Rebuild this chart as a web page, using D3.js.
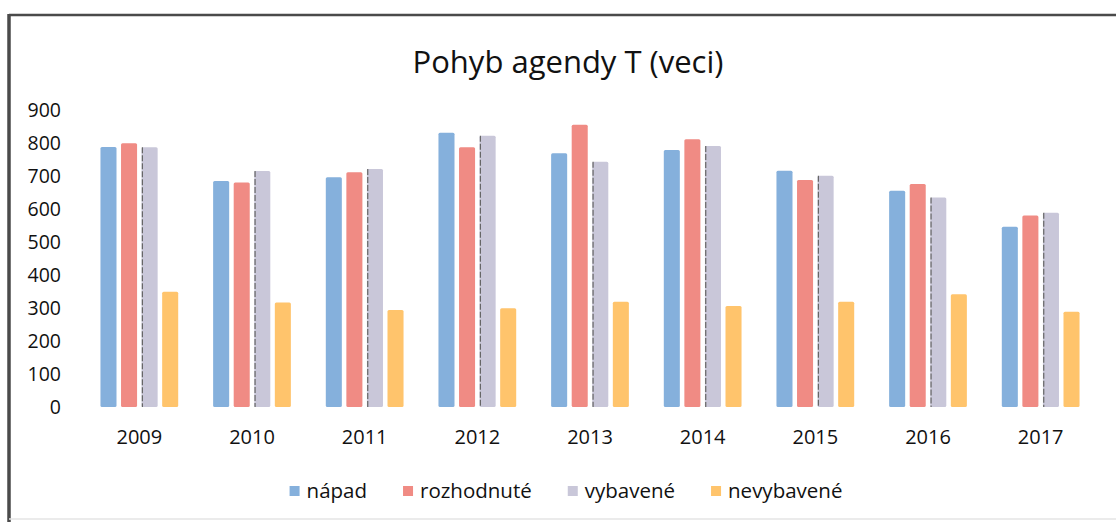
<!DOCTYPE html>
<html lang="en">
<head>
    <meta charset="UTF-8">
    <title>Pohyb agendy T (veci)</title>
    <script src="https://d3js.org/d3.v7.min.js"></script>
    <style>
        body { margin: 0; background: #fff; }
        svg { display: block; font-family: "Open Sans", sans-serif; }
    </style>
</head>
<body>
<svg id="chart"></svg>
<script>
    const years = ["2009", "2010", "2011", "2012", "2013", "2014", "2015", "2016", "2017"];
    const seriesNames = ["nápad", "rozhodnuté", "vybavené", "nevybavené"];
    const napad = [788, 685, 696, 831, 769, 779, 716, 655, 546];
    const rozhodnute = [799, 680, 711, 787, 855, 811, 688, 676, 580];
    const vybavene = [787, 715, 721, 822, 743, 791, 701, 635, 589];
    const nevybavene = [349, 317, 294, 299, 319, 306, 319, 342, 289];
    const yTicks = [0, 100, 200, 300, 400, 500, 600, 700, 800, 900];
    const colors = ["#85b0dc", "#f08b84", "#c9c7d9", "#ffc46c"];

    const values = [napad, rozhodnute, vybavene, nevybavene];
    const data = years.map((y, i) => ({
        year: y,
        vals: seriesNames.map((s, k) => ({ key: s, value: values[k][i] }))
    }));

    const width = 1116, height = 522;
    const svg = d3.select("#chart").attr("width", width).attr("height", height);

    // frame
    svg.append("line").attr("x1", 9).attr("x2", width).attr("y1", 15).attr("y2", 15)
        .attr("stroke", "#4a4a4a").attr("stroke-width", 2.5);
    svg.append("line").attr("x1", 9).attr("x2", 9).attr("y1", 14).attr("y2", height)
        .attr("stroke", "#4a4a4a").attr("stroke-width", 3.5);
    svg.append("line").attr("x1", 9).attr("x2", width).attr("y1", 519).attr("y2", 519)
        .attr("stroke", "#e4e4e4").attr("stroke-width", 1.5);

    svg.append("text")
        .attr("x", 568).attr("y", 73)
        .attr("text-anchor", "middle")
        .attr("font-size", 31)
        .attr("fill", "#111")
        .text("Pohyb agendy T (veci)");

    const y = d3.scaleLinear().domain([0, 900]).range([407, 110]);
    const x = d3.scaleBand().domain(years).range([83, 1097]).paddingInner(0.31).paddingOuter(0.155);
    const xs = d3.scaleBand().domain(seriesNames).range([0, x.bandwidth()]).paddingInner(0.22);

    const yAxis = svg.append("g").attr("transform", "translate(61,0)")
        .call(d3.axisLeft(y).tickValues(yTicks).tickSize(0).tickPadding(0));
    yAxis.select(".domain").remove();
    yAxis.selectAll("text").attr("font-size", 19.5).attr("font-family", "Open Sans").attr("fill", "#111");

    const xAxis = svg.append("g").attr("transform", "translate(0,407)")
        .call(d3.axisBottom(x).tickSize(0).tickPadding(23));
    xAxis.select(".domain").remove();
    xAxis.selectAll("text").attr("font-size", 20).attr("font-family", "Open Sans").attr("fill", "#111");

    const groups = svg.selectAll("g.year")
        .data(data)
        .enter()
        .append("g")
        .attr("class", "year")
        .attr("transform", d => `translate(${x(d.year)},0)`);

    groups.selectAll("rect")
        .data(d => d.vals)
        .enter()
        .append("rect")
        .attr("x", d => xs(d.key))
        .attr("width", xs.bandwidth())
        .attr("y", d => y(d.value))
        .attr("height", d => y(0) - y(d.value))
        .attr("rx", 1.5)
        .attr("fill", (d, i) => colors[i]);

    // dark left edge on vybavené bars (as in the scan)
    groups.selectAll("line.edge")
        .data(d => d.vals.filter(v => v.key === "vybavené"))
        .enter()
        .append("line")
        .attr("class", "edge")
        .attr("x1", d => xs(d.key) + 0.8)
        .attr("x2", d => xs(d.key) + 0.8)
        .attr("y1", d => y(d.value))
        .attr("y2", y(0))
        .attr("stroke", "#666")
        .attr("stroke-width", 1.2)
        .attr("stroke-dasharray", "6,2");

    // legend
    const legend = svg.append("g");
    let lx = 0;
    seriesNames.forEach((s, i) => {
        const item = legend.append("g").attr("transform", `translate(${lx},0)`);
        item.append("rect").attr("x", 0).attr("y", -12).attr("width", 10).attr("height", 10).attr("fill", colors[i]);
        const t = item.append("text").attr("x", 17).attr("y", 0)
            .attr("font-size", 20.5).attr("fill", "#111").text(s);
        lx += 17 + t.node().getComputedTextLength() + 36;
    });
    const legendWidth = lx - 36;
    legend.attr("transform", `translate(${566 - legendWidth / 2},498)`);
</script>
</body>
</html>
